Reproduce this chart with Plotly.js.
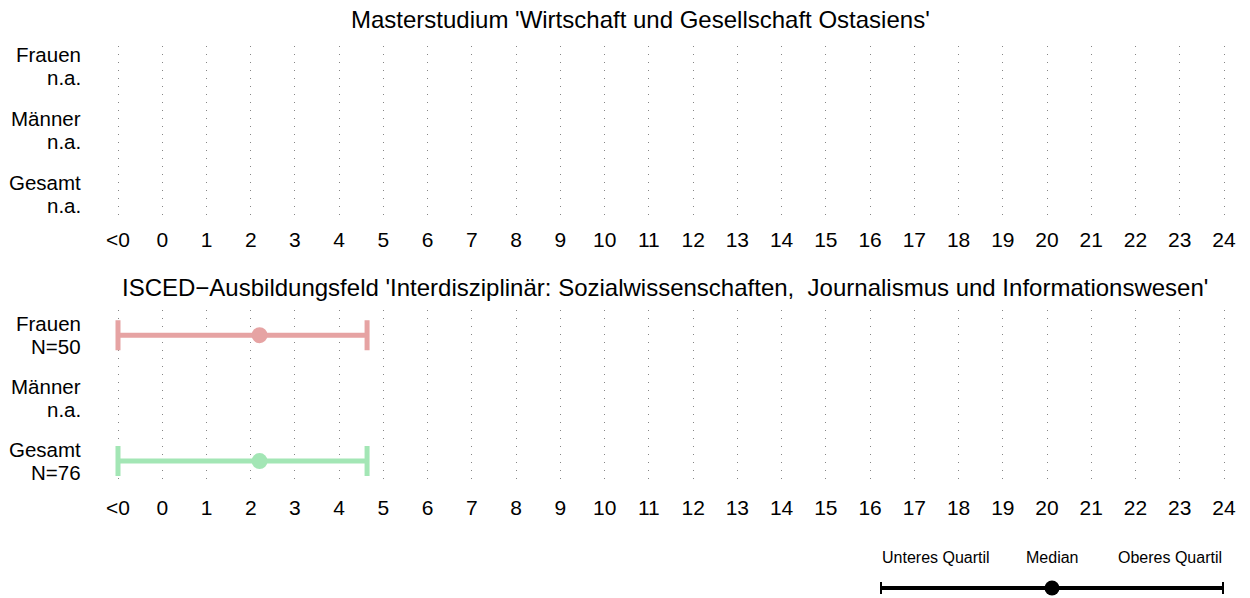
<!DOCTYPE html>
<html>
<head>
<meta charset="utf-8">
<script src="https://cdn.plot.ly/plotly-3.0.1.min.js"></script>
<style>html,body{margin:0;padding:0;background:#fff;}#chart{width:1250px;height:598px;}</style>
</head>
<body>
<div id="chart"></div>
<script>
// ---- data ----
const categories = ["Frauen", "Männer", "Gesamt"];
const topTitle = "Masterstudium 'Wirtschaft und Gesellschaft Ostasiens'";
const bottomTitle = "ISCED\u2212Ausbildungsfeld 'Interdisziplinär: Sozialwissenschaften,\u00a0 Journalismus und Informationswesen'";
const topCounts = ["n.a.", "n.a.", "n.a."];
const topLower = [null, null, null];
const topMedian = [null, null, null];
const topUpper = [null, null, null];
const bottomCounts = ["N=50", "n.a.", "N=76"];
const bottomLower = [-1, null, -1];
const bottomMedian = [2.2, null, 2.2];
const bottomUpper = [4.63, null, 4.63];
const rowColors = ["#E6A3A3", "#A3B8E6", "#A3E6B5"];
const xTickVals = [-1, 0, 1, 2, 3, 4, 5, 6, 7, 8, 9, 10, 11, 12, 13, 14, 15, 16, 17, 18, 19, 20, 21, 22, 23, 24];
const xTickText = ["<0", "0", "1", "2", "3", "4", "5", "6", "7", "8", "9", "10", "11", "12", "13", "14", "15", "16", "17", "18", "19", "20", "21", "22", "23", "24"];
const legendX = [0, 0.5, 1];
const legendLabels = ["Unteres Quartil", "Median", "Oberes Quartil"];

// ---- build ----
const FONT = "Liberation Sans, Arial, sans-serif";
const traces = [];
function panelTraces(lower, median, upper, xa, ya) {
  categories.forEach((c, i) => {
    const m = median[i];
    traces.push({
      type: "scatter", mode: "markers", xaxis: xa, yaxis: ya,
      x: [m], y: [i], cliponaxis: false, hoverinfo: "skip",
      marker: {size: 16, color: rowColors[i]},
      error_x: {
        type: "data", symmetric: false,
        array: [m == null ? null : upper[i] - m],
        arrayminus: [m == null ? null : m - lower[i]],
        color: rowColors[i], thickness: 5, width: 15
      }
    });
  });
}
panelTraces(topLower, topMedian, topUpper, "x", "y");
panelTraces(bottomLower, bottomMedian, bottomUpper, "x2", "y2");
// legend key
traces.push({
  type: "scatter", mode: "markers", xaxis: "x3", yaxis: "y3",
  x: [legendX[1]], y: [0.5], cliponaxis: false, hoverinfo: "skip",
  marker: {size: 15, color: "#000"},
  error_x: {type: "data", symmetric: false,
    array: [legendX[2] - legendX[1]], arrayminus: [legendX[1] - legendX[0]],
    color: "#000", thickness: 4, width: 12}
});

const W = 1250, H = 598;
const xDom = [95.88 / W, 1246.12 / W];
const xBase = {
  range: [-1.5, 24.5], domain: xDom, tickmode: "array",
  tickvals: xTickVals, ticktext: xTickText, showgrid: true,
  gridcolor: "#858585", griddash: "1px,7px", gridwidth: 1,
  zeroline: false, showline: false, ticks: "", ticklabelstandoff: 8,
  tickfont: {family: FONT, size: 21, color: "#000"}, fixedrange: true
};
const yBase = {showgrid: false, zeroline: false, showline: false, showticklabels: false, ticks: "", fixedrange: true};

const annotations = [];
function rowLabels(counts, ya) {
  categories.forEach((c, i) => {
    annotations.push({xref: "paper", yref: ya, x: 83 / W, y: i, xanchor: "right", yanchor: "middle",
      yshift: 11.5, text: c, showarrow: false, font: {family: FONT, size: 20.5, color: "#000"}});
    annotations.push({xref: "paper", yref: ya, x: 83 / W, y: i, xanchor: "right", yanchor: "middle",
      yshift: -11.5, text: counts[i], showarrow: false, font: {family: FONT, size: 20.5, color: "#000"}});
  });
}
rowLabels(topCounts, "y");
rowLabels(bottomCounts, "y2");
annotations.push({xref: "paper", yref: "paper", x: 640.5 / W, y: 1 - 20 / H, xanchor: "center", yanchor: "middle",
  text: topTitle, showarrow: false, font: {family: FONT, size: 24, color: "#000"}});
annotations.push({xref: "paper", yref: "paper", x: 665 / W, y: 1 - 287 / H, xanchor: "center", yanchor: "middle",
  text: bottomTitle, showarrow: false, font: {family: FONT, size: 24, color: "#000"}});
const legAnchors = ["left", "center", "right"];
legendLabels.forEach((t, i) => {
  annotations.push({xref: "x3", yref: "paper", x: legendX[i], y: 1 - 557 / H, xanchor: legAnchors[i], yanchor: "middle",
    text: t, showarrow: false, font: {family: FONT, size: 16, color: "#000"}});
});

const layout = {
  width: W, height: H, margin: {l: 0, r: 0, t: 0, b: 0},
  paper_bgcolor: "#fff", plot_bgcolor: "#fff", showlegend: false,
  font: {family: FONT, color: "#000"},
  xaxis: Object.assign({}, xBase, {anchor: "y"}),
  yaxis: Object.assign({}, yBase, {domain: [1 - 217 / H, 1 - 46 / H], range: [2.36, -0.31], anchor: "x"}),
  xaxis2: Object.assign({}, xBase, {anchor: "y2"}),
  yaxis2: Object.assign({}, yBase, {domain: [1 - 485 / H, 1 - 310 / H], range: [2.38, -0.4], anchor: "x2"}),
  xaxis3: {domain: [880 / W, 1224 / W], range: [0, 1], visible: false, fixedrange: true, anchor: "y3"},
  yaxis3: {domain: [1 - 594 / H, 1 - 582 / H], range: [0, 1], visible: false, fixedrange: true, anchor: "x3"},
  annotations: annotations
};
Plotly.newPlot("chart", traces, layout, {displayModeBar: false, staticPlot: true});
</script>
</body>
</html>
